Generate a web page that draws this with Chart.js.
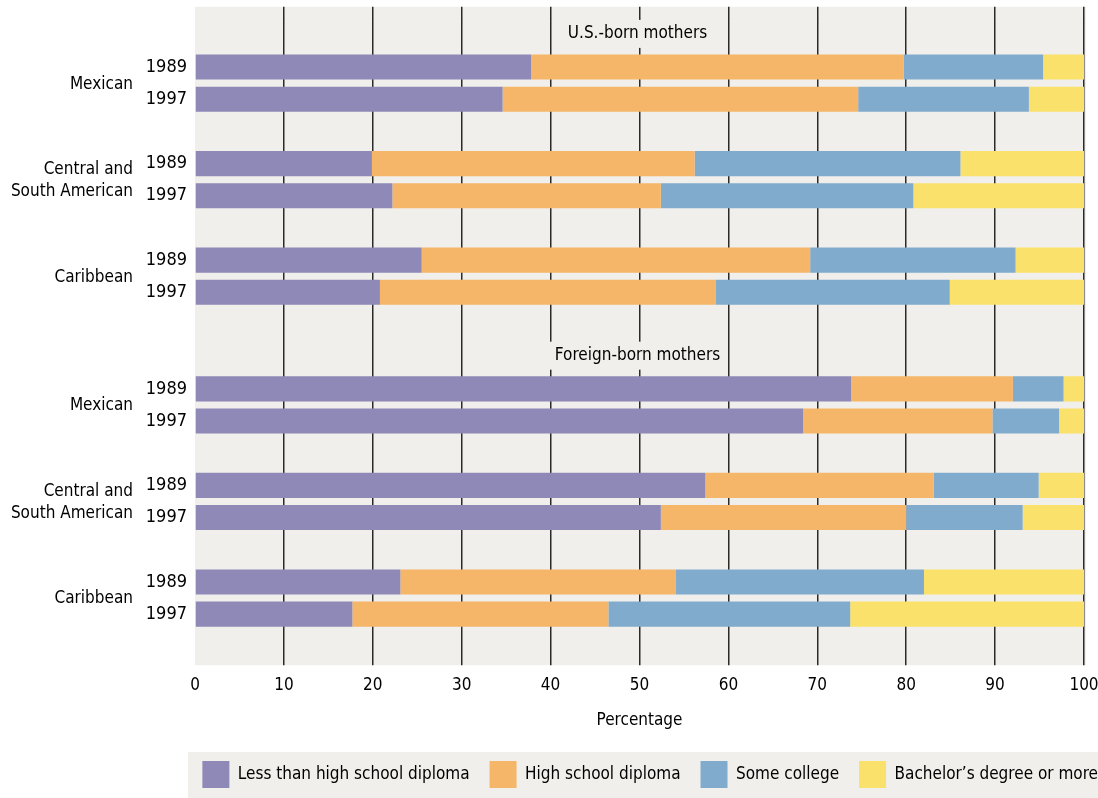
<!DOCTYPE html>
<html>
<head>
<meta charset="utf-8">
<script src="https://cdn.jsdelivr.net/npm/chart.js@4.4.0/dist/chart.umd.min.js"></script>
<style>
  html, body { margin: 0; padding: 0; background: #fff; }
  #wrap { position: relative; width: 1098px; height: 798px; }
</style>
</head>
<body>
<div id="wrap"><canvas id="eduChart"></canvas></div>
<script>
const origins = ['U.S.-born mothers', 'Foreign-born mothers'];
const groups = [['Mexican'], ['Central and', 'South American'], ['Caribbean']];
const years = ['1989', '1997'];
const xTicks = [0, 10, 20, 30, 40, 50, 60, 70, 80, 90, 100];

// order: U.S.-born (Mex 89/97, C&SA 89/97, Carib 89/97), then foreign-born
const lessThanHS  = [37.8, 34.6, 19.9, 22.2, 25.5, 20.8, 73.8, 68.4, 57.4, 52.4, 23.1, 17.7];
const highSchool  = [41.9, 40.0, 36.3, 30.2, 43.7, 37.8, 18.2, 21.3, 25.7, 27.6, 31.0, 28.8];
const someCollege = [15.7, 19.2, 29.9, 28.4, 23.1, 26.3,  5.7,  7.5, 11.8, 13.1, 27.9, 27.2];
const bachelor    = [ 4.6,  6.2, 13.9, 19.2,  7.7, 15.1,  2.3,  2.8,  5.1,  6.9, 18.0, 26.3];

const FONT = '"Liberation Sans Narrow", "DejaVu Sans Condensed", "Roboto", sans-serif';
const BG = '#f0efeb';
const GRID = '#2a2a2a';
const INK = '#000';

// rows of the y axis: header row, two years per group, spacer between groups
const rows = [];
origins.forEach((o, oi) => {
  rows.push({ tick: '', header: o });
  groups.forEach((g, gi) => {
    years.forEach(y => rows.push({ tick: y, group: gi, origin: oi }));
    if (!(oi === origins.length - 1 && gi === groups.length - 1)) rows.push({ tick: '' });
  });
});

function spread(values) {
  let k = 0;
  return rows.map(r => (r.group !== undefined ? values[k++] : null));
}

const gridColor = c => (c.tick && c.tick.value === 0 ? 'rgba(0,0,0,0)' : GRID);

const decor = {
  id: 'decor',
  afterLayout(chart) {
    // legend in the reference runs right up to the edge of the band
    chart.legend.left += 20;
    chart.legend.right += 20;
  },
  beforeDraw(chart) {
    const { ctx, chartArea: a, scales: { x2 } } = chart;
    const lg = chart.legend;
    ctx.save();
    ctx.fillStyle = BG;
    ctx.fillRect(a.left, x2.top, a.width + 2, a.bottom + 35 - x2.top);
    ctx.fillRect(188, lg.top + 11, chart.width - 188, lg.bottom - lg.top - 11);
    ctx.restore();
  },
  afterDatasetsDraw(chart) {
    const { ctx, chartArea: a, scales: { x, y } } = chart;
    ctx.save();
    ctx.font = '17px ' + FONT;
    ctx.textBaseline = 'middle';
    const cx = x.getPixelForValue(50) - 2;
    rows.forEach((r, i) => {
      if (!r.header) return;
      const py = y.getPixelForValue(i) - 1;
      const w = ctx.measureText(r.header).width;
      ctx.fillStyle = BG;
      ctx.fillRect(cx - w / 2 - 6, py - 14, w + 12, 28);
      ctx.fillStyle = INK;
      ctx.textAlign = 'center';
      ctx.fillText(r.header, cx, py);
    });
    // group names, centred between their two year rows
    ctx.textAlign = 'right';
    ctx.fillStyle = INK;
    origins.forEach((o, oi) => {
      groups.forEach((g, gi) => {
        const idx = rows.map((r, i) => (r.group === gi && r.origin === oi ? i : -1)).filter(i => i >= 0);
        const mid = (y.getPixelForValue(idx[0]) + y.getPixelForValue(idx[idx.length - 1])) / 2;
        const lh = 22;
        g.forEach((line, li) => {
          ctx.fillText(line, a.left - 62, mid + 1 + (li - (g.length - 1) / 2) * lh);
        });
      });
    });
    ctx.restore();
  }
};

Chart.defaults.font.family = FONT;
Chart.defaults.color = INK;

const ctx = document.getElementById('eduChart').getContext('2d');

new Chart(ctx, {
  type: 'bar',
  data: {
    labels: rows.map(r => r.tick),
    datasets: [
      { label: 'Less than high school diploma', data: spread(lessThanHS), backgroundColor: '#8e89b7' },
      { label: 'High school diploma', data: spread(highSchool), backgroundColor: '#f5b66a' },
      { label: 'Some college', data: spread(someCollege), backgroundColor: '#81abcd' },
      { label: 'Bachelor\u2019s degree or more', data: spread(bachelor), backgroundColor: '#fae16b' }
    ].map(d => Object.assign(d, { barPercentage: 0.78, categoryPercentage: 1, borderWidth: 0 }))
  },
  options: {
    indexAxis: 'y',
    responsive: true,
    maintainAspectRatio: false,
    animation: false,
    layout: { padding: { top: 6, left: 0, right: 0, bottom: 0 } },
    plugins: {
      legend: {
        position: 'bottom',
        align: 'end',
        labels: { boxWidth: 27, boxHeight: 27, padding: 20, color: INK, font: { size: 17 } }
      },
      tooltip: { enabled: false }
    },
    scales: {
      x: {
        stacked: true,
        min: 0,
        max: 100,
        afterBuildTicks: s => { s.ticks = xTicks.map(v => ({ value: v })); },
        afterFit: s => { s.paddingLeft = 0; s.paddingRight = 14; },
        ticks: { color: INK, font: { size: 17 }, padding: 10 },
        grid: { color: gridColor, lineWidth: 1.5, tickLength: 35 },
        border: { display: false },
        title: { display: true, text: 'Percentage', color: INK, font: { size: 17 }, padding: { top: 5, bottom: 10 } }
      },
      x2: {
        type: 'linear',
        position: 'top',
        min: 0,
        max: 100,
        afterBuildTicks: s => { s.ticks = xTicks.map(v => ({ value: v })); },
        ticks: { display: false },
        grid: { color: gridColor, lineWidth: 1.5, tickLength: 12, drawOnChartArea: false },
        border: { display: false }
      },
      y: {
        stacked: true,
        ticks: { color: INK, font: { size: 18 }, padding: 8, autoSkip: false },
        grid: { display: false, drawTicks: false },
        border: { display: false },
        afterFit: s => { s.width = 195; }
      }
    }
  },
  plugins: [decor]
});
</script>
</body>
</html>
